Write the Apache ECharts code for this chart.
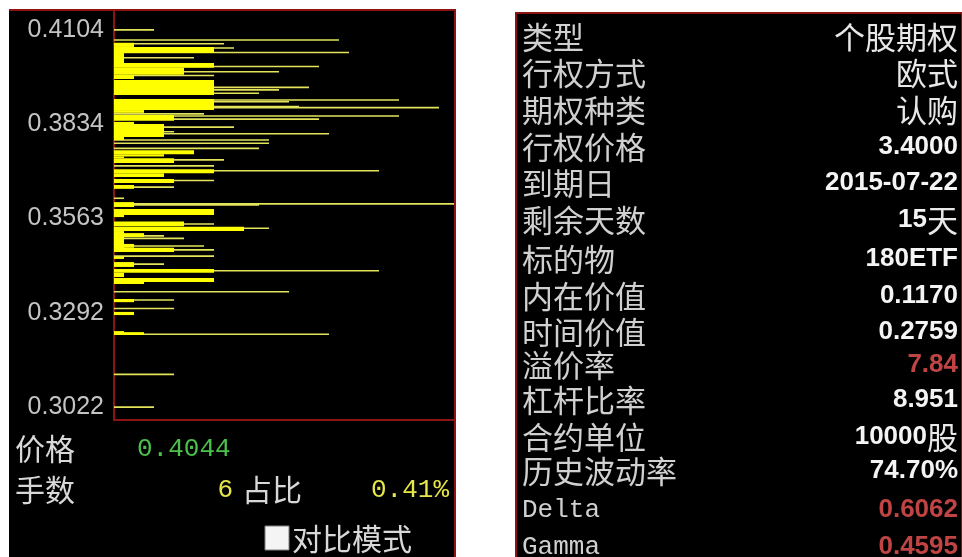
<!DOCTYPE html>
<html><head><meta charset="utf-8">
<script src="https://cdn.jsdelivr.net/npm/echarts@6/dist/echarts.min.js"></script>
<style>html,body{margin:0;padding:0;background:#fff}#c{width:962px;height:557px}</style>
</head><body><div id="c"></div>
<script>
// ---- data ----
const Y_TICKS = [0.3022, 0.3292, 0.3563, 0.3834, 0.4104];
const LINE_PRICES = [0.4104,0.4075,0.4064,0.4052,0.4039,0.4024,0.3999,0.3984,0.3973,0.3939,0.3932,0.3922,0.3903,0.3898,0.3884,0.3881,0.3863,0.3857,0.3848,0.3825,0.3812,0.3806,0.3788,0.3779,0.3764,0.3731,0.3714,0.3700,0.3672,0.3653,0.3621,0.3605,0.3602,0.3547,0.3535,0.3513,0.3506,0.3484,0.3473,0.3455,0.3432,0.3413,0.3353,0.3329,0.3305,0.3231,0.3116,0.3022];
const LINE_VOLUMES = [4,22.5,11,12,23.5,8,20.5,16.5,10,19.5,16.5,14.5,28.5,17.5,18.5,32.5,9,28.5,20.5,12,6,21.5,15.5,15.5,14.5,11,10,26.5,10,6,1,34,14.5,10,15.5,5,7,9,10,10,5,26.5,17.5,6,6,21.5,6,4];
const BLOCK_HIGH = [0.4067,0.4055,0.4038,0.4009,0.3995,0.3975,0.3960,0.3906,0.3874,0.3860,0.3840,0.3834,0.3797,0.3759,0.3747,0.3741,0.3736,0.3704,0.3693,0.3676,0.3659,0.3610,0.3590,0.3573,0.3554,0.3539,0.3527,0.3521,0.3490,0.3479,0.3453,0.3438,0.3418,0.3407,0.3392,0.3381,0.3332,0.3295,0.3240,0.3237];
const BLOCK_LOW  = [0.4055,0.4038,0.4009,0.3995,0.3975,0.3963,0.3917,0.3874,0.3866,0.3843,0.3834,0.3797,0.3788,0.3747,0.3741,0.3736,0.3722,0.3693,0.3682,0.3665,0.3648,0.3596,0.3573,0.3567,0.3541,0.3527,0.3473,0.3510,0.3479,0.3467,0.3447,0.3424,0.3407,0.3395,0.3381,0.3375,0.3323,0.3286,0.3231,0.3229];
const BLOCK_VOLUMES = [2,10,1,10,7,2,10,10,3,6,2,5,1,8,5,1,6,10,5,6,2,2,10,1,7,13,1,3,2,6,1,2,10,1,10,3,2,2,1,3];
const INFO_LABELS = ['类型','行权方式','期权种类','行权价格','到期日','剩余天数','标的物','内在价值','时间价值','溢价率','杠杆比率','合约单位','历史波动率','Delta','Gamma'];
const INFO_VALUES = ['个股期权','欧式','认购','3.4000','2015-07-22','15天','180ETF','0.1170','0.2759','7.84','8.951','10000股','74.70%','0.6062','0.4595'];
const INFO_RED = [false,false,false,false,false,false,false,false,false,true,false,false,false,true,true];
const CURSOR_PRICE = '0.4044';
const CURSOR_LOTS = '6';
const CURSOR_SHARE = '0.41%';

// ---- build ----
const lineData = LINE_PRICES.map((p, i) => [p, LINE_VOLUMES[i]]);
const blockData = BLOCK_HIGH.map((h, i) => [h, BLOCK_LOW[i], BLOCK_VOLUMES[i]]);

const RED = '#8e1414';
const CJK = "'Noto Sans CJK SC', sans-serif";
const MONO = "'Liberation Mono','DejaVu Sans Mono', monospace";
const NUM = "'Liberation Sans','Noto Sans CJK SC', sans-serif";
const ROW_Y = [37,73,110,147,183,220,259,296,332,365,400,437,471,510,547];

const graphics = [];
// panels
graphics.push({type:'rect', z:-10, shape:{x:9,y:9,width:447,height:560}, style:{fill:'#000'}});
graphics.push({type:'line', z:10, shape:{x1:9,y1:10,x2:456,y2:10}, style:{stroke:RED,lineWidth:2}});
graphics.push({type:'line', z:10, shape:{x1:455,y1:9,x2:455,y2:557}, style:{stroke:RED,lineWidth:2}});
graphics.push({type:'rect', z:-10, shape:{x:516,y:13,width:446,height:560}, style:{fill:'#000', stroke:RED, lineWidth:2}});

// bottom-left texts
function txt(t, x, y, color, font, align) {
  graphics.push({type:'text', z:10, x:x, y:y, style:{text:t, fill:color, font:font, align:align||'left', verticalAlign:'middle'}});
}
txt('价格', 15, 449, '#d8d8d8', '30px ' + CJK);
txt(CURSOR_PRICE, 137, 449, '#4cc04c', '26px ' + MONO);
txt('手数', 15, 490, '#d8d8d8', '30px ' + CJK);
txt(CURSOR_LOTS, 233, 490, '#e6e64a', '26px ' + MONO, 'right');
txt('占比', 242, 490, '#d8d8d8', '30px ' + CJK);
txt(CURSOR_SHARE, 449, 490, '#e6e64a', '26px ' + MONO, 'right');
graphics.push({type:'rect', z:10, shape:{x:265,y:526,width:24,height:24}, style:{fill:'#f4f4f4', stroke:'#808080', lineWidth:1}});
txt('对比模式', 292, 539, '#d8d8d8', '30px ' + CJK);

// info table
INFO_LABELS.forEach((lab, i) => {
  const isAscii = /^[A-Za-z]+$/.test(lab);
  txt(lab, 522, ROW_Y[i], '#d0d0d0', isAscii ? ('26px ' + MONO) : ('31px ' + CJK));
});
INFO_VALUES.forEach((v, i) => {
  const color = INFO_RED[i] ? '#c04444' : '#f4f4f4';
  const runs = v.match(/[\u4e00-\u9fff]+|[^\u4e00-\u9fff]+/g);
  const text = runs.map(r => /[\u4e00-\u9fff]/.test(r) ? '{c|' + r + '}' : '{n|' + r + '}').join('');
  graphics.push({type:'text', z:10, x:958, y:ROW_Y[i], style:{
    text:text, align:'right', verticalAlign:'middle',
    rich:{
      n:{fill:color, fontFamily:NUM, fontWeight:'bold', fontSize:26},
      c:{fill:'#e8e8e8', fontFamily:CJK, fontSize:31}
    }
  }});
});

const chart = echarts.init(document.getElementById('c'));
chart.setOption({
  backgroundColor:'#ffffff',
  animation:false,
  grid:{left:114, top:10, right:508, bottom:137, containLabel:false},
  xAxis:{type:'value', min:0, max:34, axisLine:{show:true, lineStyle:{color:RED, width:2}}, axisTick:{show:false}, axisLabel:{show:false}, splitLine:{show:false}},
  yAxis:{type:'value', min:0.2985, max:0.4161,
    axisLine:{show:true, lineStyle:{color:RED, width:2}}, axisTick:{show:false}, splitLine:{show:false},
    axisLabel:{customValues:Y_TICKS, formatter:v => v.toFixed(4), color:'#c4c4c4', fontSize:25, fontFamily:"'Liberation Sans', Arial, sans-serif", margin:10}
  },
  graphic:graphics,
  series:[
    {type:'custom', name:'lines', data:lineData, clip:true, encode:{x:1, y:0},
      renderItem:function(params, api){
        const o = api.coord([0, api.value(0)]);
        const p = api.coord([api.value(1), api.value(0)]);
        return {type:'rect', shape:{x:o[0], y:o[1]-0.8, width:p[0]-o[0], height:1.6}, style:{fill:'#e4e45a'}};
      }},
    {type:'custom', name:'blocks', data:blockData, clip:true, encode:{x:2, y:[0,1]},
      renderItem:function(params, api){
        const a = api.coord([0, api.value(0)]);
        const b = api.coord([api.value(2), api.value(1)]);
        return {type:'rect', shape:{x:a[0], y:a[1], width:b[0]-a[0], height:b[1]-a[1]}, style:{fill:'#ffff00'}};
      }}
  ]
});
</script></body></html>
